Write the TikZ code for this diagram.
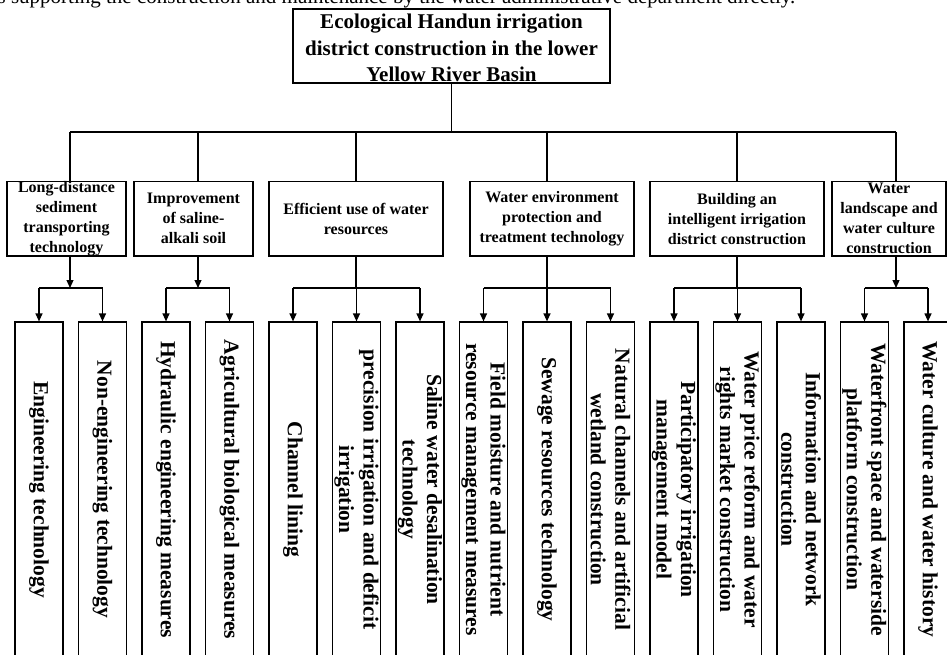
\documentclass[tikz,border=0pt]{standalone}
\usepackage{fontspec}
\setmainfont{Liberation Serif}
\usetikzlibrary{arrows.meta}
\begin{document}
\begin{tikzpicture}[x=1pt,y=-1pt,
  line width=1.2pt,
  frame/.style={draw, line width=1.2pt, inner sep=0pt},
  toptext/.style={inner sep=0pt, align=center, font=\bfseries\fontsize{21}{26.5}\selectfont},
  midtext/.style={inner sep=0pt, align=center, font=\bfseries\fontsize{16}{20}\selectfont},
  leaf/.style={frame, minimum width=48pt, minimum height=335pt},
  leaftext/.style={rotate=-90, align=center, inner sep=0pt, font=\bfseries\fontsize{21.5}{24.5}\selectfont},
  arr/.style={-{Triangle[length=8pt,width=7pt]}},
]
\useasboundingbox (0,0) rectangle (947,655);
\clip (0,0) rectangle (947,655);

% cut-off caption line
\node[anchor=base west, inner sep=0pt, font=\fontsize{21}{25}\selectfont] (cap) at (-3,3.5)
  {s supporting the construction and maintenance by the water administrative department directly.};

% top box
\node[frame, minimum width=317pt, minimum height=74pt] (top) at (451.5,46) {};
\node[toptext] (toptx) at (451.5,48) {Ecological Handun irrigation\\district construction in the lower\\Yellow River Basin};

% level 2 boxes
\node[frame, minimum width=119pt, minimum height=74.5pt] (b1) at (66.5,218.75) {};
\node[frame, minimum width=119pt, minimum height=74.5pt] (b2) at (193.5,218.75) {};
\node[frame, minimum width=174pt, minimum height=74.5pt] (b3) at (356,218.75) {};
\node[frame, minimum width=164pt, minimum height=74.5pt] (b4) at (552,218.75) {};
\node[frame, minimum width=174pt, minimum height=74.5pt] (b5) at (737,218.75) {};
\node[frame, minimum width=114pt, minimum height=74.5pt] (b6) at (889,218.75) {};

\node[midtext] (s1) at (b1.center) {Long-distance\\sediment\\transporting\\technology};
\node[midtext] (s2) at (b2.center) {Improvement\\of saline-\\alkali soil};
\node[midtext] (s3) at (b3.center) {Efficient use of water\\resources};
\node[midtext] (s4) at (b4.center) {Water environment\\protection and\\treatment technology};
\node[midtext] (s5) at (b5.center) {Building an\\intelligent irrigation\\district construction};
\node[midtext] (s6) at (b6.center) {Water\\landscape and\\water culture\\construction};

% level 3 boxes
\foreach \i in {1,...,15} {
  \node[leaf] (c\i) at ({39+63.5*(\i-1)},489.5) {};
}
\node[leaftext] (t1) at (c1.center) {Engineering technology};
\node[leaftext] (t2) at (c2.center) {Non-engineering technology};
\node[leaftext] (t3) at (c3.center) {Hydraulic engineering measures};
\node[leaftext] (t4) at (c4.center) {Agricultural biological measures};
\node[leaftext] (t5) at (c5.center) {Channel lining};
\node[leaftext] (t6) at (c6.center) {precision irrigation and deficit\\irrigation};
\node[leaftext] (t7) at (c7.center) {Saline water desalination\\technology};
\node[leaftext] (t8) at (c8.center) {Field moisture and nutrient\\resource management measures};
\node[leaftext] (t9) at (c9.center) {Sewage resources technology};
\node[leaftext] (t10) at (c10.center) {Natural channels and artificial\\wetland construction};
\node[leaftext] (t11) at (c11.center) {Participatory irrigation\\management model};
\node[leaftext] (t12) at (c12.center) {Water price reform and water\\rights market construction};
\node[leaftext] (t13) at (c13.center) {Information and network\\construction};
\node[leaftext] (t14) at (c14.center) {Waterfront space and waterside\\platform construction};
\node[leaftext] (t15) at (c15.center) {Water culture and water history};

% top to level 2
\coordinate (j1) at (70,132);
\coordinate (j2) at (198,132);
\coordinate (j3) at (356,132);
\coordinate (j4) at (547,132);
\coordinate (j5) at (737,132);
\coordinate (j6) at (896,132);
\draw (top.south) -- (top.south |- j1);
\draw (j1) -- (j6);
\foreach \k in {1,...,6} { \draw (j\k) -- (j\k |- b\k.north); }

% level 2 to level 3
\coordinate (k1) at (70,288);
\coordinate (k2) at (198,288);
\coordinate (k3) at (356,288);
\coordinate (k4) at (547,288);
\coordinate (k5) at (737,288);
\coordinate (k6) at (896,288);
\draw[arr] (k1 |- b1.south) -- (k1);
\draw[arr] (k2 |- b2.south) -- (k2);
\draw (k3 |- b3.south) -- (k3);
\draw (k4 |- b4.south) -- (k4);
\draw (k5 |- b5.south) -- (k5);
\draw[arr] (k6 |- b6.south) -- (k6);

\draw (c1.north |- k1) -- (c2.north |- k1);
\draw (c3.north |- k2) -- (c4.north |- k2);
\draw (c5.north |- k3) -- (c7.north |- k3);
\draw (c8.north |- k4) -- (c10.north |- k4);
\draw (c11.north |- k5) -- (c13.north |- k5);
\draw (c14.north |- k6) -- (c15.north |- k6);

\foreach \i in {1,...,15} {
  \draw[arr] (c\i.north |- k1) -- (c\i.north);
}
\end{tikzpicture}
\end{document}
